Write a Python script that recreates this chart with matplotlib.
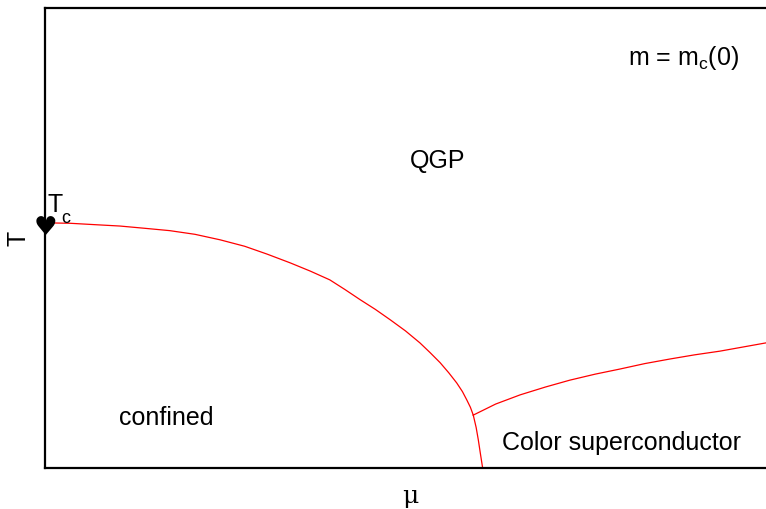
import matplotlib
matplotlib.use('Agg')
import matplotlib.pyplot as plt

plt.rcParams['font.family'] = ['Liberation Sans', 'DejaVu Sans']
plt.rcParams['mathtext.fontset'] = 'custom'
plt.rcParams['mathtext.rm'] = 'Liberation Sans'
plt.rcParams['mathtext.it'] = 'Liberation Sans'

# phase boundary: confined / QGP (chemical potential mu, temperature T, scaled 0..1)
mu_qgp = [0.0, 0.035, 0.069, 0.104, 0.139, 0.173, 0.208, 0.243, 0.277, 0.308,
          0.340, 0.368, 0.395, 0.416, 0.437, 0.458, 0.479, 0.500, 0.520, 0.534,
          0.548, 0.560, 0.571, 0.579, 0.585, 0.590, 0.594]
T_qgp = [0.533, 0.532, 0.529, 0.526, 0.521, 0.516, 0.508, 0.496, 0.482, 0.465,
         0.446, 0.428, 0.409, 0.388, 0.366, 0.345, 0.322, 0.298, 0.272, 0.251,
         0.229, 0.207, 0.185, 0.166, 0.148, 0.132, 0.115]

# boundary: confined / color superconductor
mu_csc = [0.594, 0.598, 0.601, 0.604, 0.607]
T_csc = [0.115, 0.088, 0.061, 0.030, 0.0]

# boundary: QGP / color superconductor
mu_top = [0.594, 0.625, 0.659, 0.694, 0.728, 0.763, 0.797, 0.832, 0.867, 0.901,
          0.936, 0.968, 1.0]
T_top = [0.115, 0.139, 0.159, 0.176, 0.191, 0.204, 0.215, 0.227, 0.237, 0.246,
         0.254, 0.263, 0.272]

Tc = 0.533

fig = plt.figure(figsize=(7.66, 5.09), dpi=100)
ax = fig.add_axes([45 / 766, 41 / 509, 721 / 766, 460 / 509])

# red phase lines
for xs, ys in [(mu_qgp, T_qgp), (mu_csc, T_csc), (mu_top, T_top)]:
    ax.plot(xs, ys, color='red', lw=0.9, clip_on=False)

ax.set_xlim(0, 1)
ax.set_ylim(0, 1)
ax.set_xticks([])
ax.set_yticks([])
ax.spines['right'].set_visible(False)
for s in ['left', 'bottom', 'top']:
    ax.spines[s].set_linewidth(1.6)

fs = 18

# critical temperature marker
ax.text(0.0, Tc - 0.012, '\u2665', fontsize=19, ha='center', va='center',
        family='DejaVu Sans', clip_on=False)
ax.text(0.003, Tc + 0.012, 'T', fontsize=fs, ha='left', va='bottom')
ax.text(0.023, Tc - 0.010, 'c', fontsize=13, ha='left', va='bottom')

ax.text(0.545, 0.667, 'QGP', fontsize=fs, ha='center', va='center')
ax.text(0.885, 0.891, r'm = m$_\mathrm{c}$(0)', fontsize=fs, ha='center', va='center')
ax.text(0.168, 0.109, 'confined', fontsize=fs, ha='center', va='center')
ax.text(0.799, 0.054, 'Color superconductor', fontsize=fs, ha='center', va='center')

# axis labels
fig.text(410 / 766, 1 - 496 / 509, '\u03bc', fontsize=fs, ha='center', va='center',
         family='DejaVu Serif')
fig.text(18 / 766, 1 - 238 / 509, 'T', fontsize=fs, ha='center', va='center',
         rotation=90)

fig.savefig('out.png', dpi=100)
